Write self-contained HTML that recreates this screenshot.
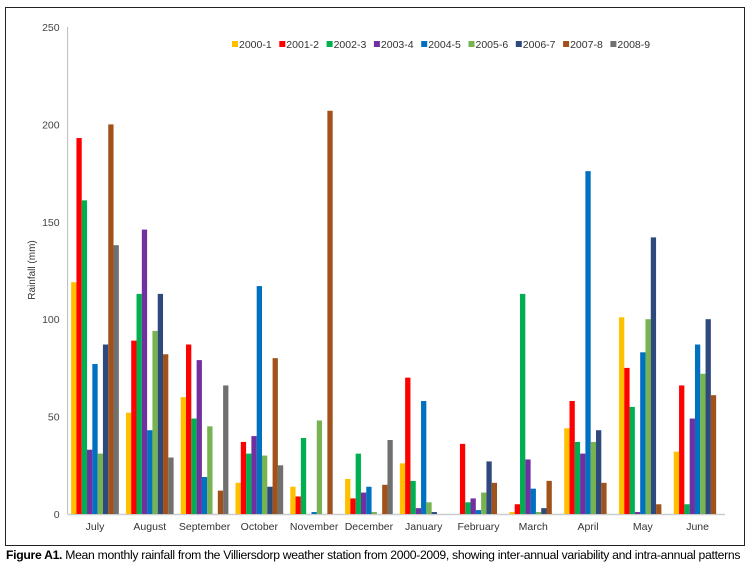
<!DOCTYPE html>
<html><head><meta charset="utf-8"><style>
body{margin:0;background:#fff;font-family:"Liberation Sans",sans-serif;}
#wrap{position:relative;width:754px;height:575px;overflow:hidden;}
#frame{position:absolute;left:5px;top:7px;width:738px;height:537px;border:1px solid #222;}
#cap{position:absolute;left:6px;top:548px;font-size:12.2px;white-space:nowrap;letter-spacing:-0.3px;color:#000;}
</style></head><body>
<div id="wrap">
<div id="frame"></div>
<svg id="chart" width="754" height="575" style="position:absolute;left:0;top:0"></svg>
<div id="cap"><b>Figure A1.</b> Mean monthly rainfall from the Villiersdorp weather station from 2000-2009, showing inter-annual variability and intra-annual patterns</div>
</div>
<script>
const months=["July","August","September","October","November","December","January","February","March","April","May","June"];
const seriesNames=["2000-1","2001-2","2002-3","2003-4","2004-5","2005-6","2006-7","2007-8","2008-9"];
const colors=["#ffc000","#ff0000","#00b050","#7030a0","#0070c0","#77b350","#2e4a7d","#a0521a","#707070"];
const s2000=[119,52,60,16,14,18,26,0,1,44,101,32];
const s2001=[193,89,87,37,9,8,70,36,5,58,75,66];
const s2002=[161,113,49,31,39,31,17,6,113,37,55,5];
const s2003=[33,146,79,40,0,11,3,8,28,31,1,49];
const s2004=[77,43,19,117,1,14,58,2,13,176,83,87];
const s2005=[31,94,45,30,48,1,6,11,1,37,100,72];
const s2006=[87,113,0,14,0,0,1,27,3,43,142,100];
const s2007=[200,82,12,80,207,15,0,16,17,16,5,61];
const s2008=[138,29,66,25,0,38,0,0,0,0,0,0];
const yTicks=[0,50,100,150,200,250];
const series=[s2000,s2001,s2002,s2003,s2004,s2005,s2006,s2007,s2008];
const NS="http://www.w3.org/2000/svg";
const svg=document.getElementById('chart');
const X0=67.6,X1=725,Y0=514,Y1=27,YMAX=250;
const y=v=>Y0-(v/YMAX)*(Y0-Y1);
const bw=(X1-X0)/months.length;
function mk(t,a,txt){const e=document.createElementNS(NS,t);for(const k in a)e.setAttribute(k,a[k]);if(txt!==undefined)e.textContent=txt;svg.appendChild(e);return e;}
let ax=mk('line',{x1:X0,y1:Y1,x2:X0,y2:Y0,stroke:'#bbb','stroke-width':1});


let bl=mk('line',{x1:X0,y1:Y0+0.5,x2:X1,y2:Y0+0.5,stroke:'#ccc','stroke-width':1.5});


yTicks.forEach(t=>{const e=mk('text',{x:X0-8,y:y(t)+4,'text-anchor':'end','font-size':10.5,fill:'#444'},t);

});
const yt=mk('text',{x:0,y:0,transform:'translate(35,270) rotate(-90)','text-anchor':'middle','font-size':10,fill:'#333'},'Rainfall (mm)');


const barW=5.3,groupW=barW*series.length;
months.forEach((m,i)=>{const cx=X0+bw*(i+0.5);
const l=mk('text',{x:cx,y:530,'text-anchor':'middle','font-size':10.5,fill:'#333'},m);


series.forEach((s,j)=>{const v=s[i];const r=mk('rect',{x:cx-groupW/2+j*barW,y:y(v),width:barW,height:Y0-y(v),fill:colors[j]});

});});
let lx=232;
seriesNames.forEach((n,j)=>{const g=document.createElementNS(NS,'g');svg.appendChild(g);


const r=document.createElementNS(NS,'rect');r.setAttribute('x',lx);r.setAttribute('y',41);r.setAttribute('width',6);r.setAttribute('height',6);r.setAttribute('fill',colors[j]);g.appendChild(r);
const t=document.createElementNS(NS,'text');t.setAttribute('x',lx+7);t.setAttribute('y',48);t.setAttribute('font-size',10.5);t.setAttribute('fill','#333');t.textContent=n;g.appendChild(t);
lx+=47.3;});
</script>
</body></html>
